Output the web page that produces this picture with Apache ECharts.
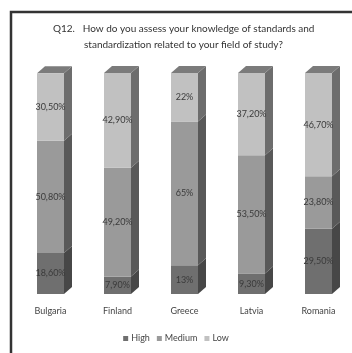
<!DOCTYPE html>
<html>
<head>
<meta charset="utf-8">
<script src="https://cdn.jsdelivr.net/npm/echarts@6/dist/echarts.min.js"></script>
<style>
    html, body { margin: 0; padding: 0; background: #fff; }
    #main { width: 352px; height: 353px; }
</style>
</head>
<body>
<div id="main"></div>
<script>
    var countries = ['Bulgaria', 'Finland', 'Greece', 'Latvia', 'Romania'];
    var high = [18.6, 7.9, 13, 9.3, 29.5];
    var medium = [50.8, 49.2, 65, 53.5, 23.8];
    var low = [30.5, 42.9, 22, 37.2, 46.7];
    var levels = ['High', 'Medium', 'Low'];

    var frontColors = ['#6f6f6f', '#9a9a9a', '#c1c1c1'];
    var sideColors = ['#474747', '#595959', '#6d6d6d'];
    var topColor = '#7b7b7b';
    var barW = 27, depthX = 8, depthY = 7;

    function pct(v) {
        // 30.5 -> "30,50%", 22 -> "22%"
        if (Math.round(v) === v) return v + '%';
        return v.toFixed(2).replace('.', ',') + '%';
    }

    // segments for the 3d side/top faces
    var values = [high, medium, low];
    var segs = [];
    countries.forEach(function (c, i) {
        var start = 0;
        values.forEach(function (arr, k) {
            segs.push([i, start, start + arr[i], k]);
            start += arr[i];
        });
    });

    var myChart = echarts.init(document.getElementById('main'));
    var font = 'Lato, "DejaVu Sans", sans-serif';

    function barSeries(name, data, k) {
        return {
            name: name,
            type: 'bar',
            stack: 'all',
            barWidth: barW,
            data: data,
            itemStyle: { color: frontColors[k] },
            label: {
                show: true,
                position: 'inside',
                color: '#3a3a3a',
                fontSize: 9,
                fontFamily: font,
                formatter: function (p) { return pct(p.value); }
            },
            emphasis: { disabled: true }
        };
    }

    var option = {
        animation: false,
        title: [{
            text: 'Q12.   How do you assess your knowledge of standards and',
            left: 48, top: 19,
            textStyle: { fontSize: 10, fontWeight: 'normal', color: '#333', fontFamily: font }
        }, {
            text: 'standardization related to your field of study?',
            left: 79, top: 35,
            textStyle: { fontSize: 10, fontWeight: 'normal', color: '#333', fontFamily: font }
        }],
        legend: {
            data: levels,
            bottom: 5,
            left: 'center',
            itemWidth: 5,
            itemHeight: 5,
            itemGap: 7,
            icon: 'rect',
            textStyle: { fontSize: 9, color: '#444', fontFamily: font, padding: [0, 0, 0, -2] }
        },
        grid: { left: 17, width: 338, top: 73, bottom: 59 },
        xAxis: {
            type: 'category',
            data: countries,
            axisLine: { show: false },
            axisTick: { show: false },
            axisLabel: { interval: 0, margin: 13, fontSize: 9, color: '#444', fontFamily: font }
        },
        yAxis: {
            type: 'value', min: 0, max: 100, show: false
        },
        graphic: [{
            type: 'polyline',
            shape: { points: [[11, 400], [11, 12], [400, 12]] },
            style: { stroke: '#333', lineWidth: 2.5, fill: null }
        }],
        series: [
            barSeries('High', high, 0),
            barSeries('Medium', medium, 1),
            barSeries('Low', low, 2),
            {
                type: 'custom',
                data: segs,
                silent: true,
                renderItem: function (params, api) {
                    var cat = api.value(0), k = api.value(3);
                    var p0 = api.coord([cat, api.value(1)]);
                    var p1 = api.coord([cat, api.value(2)]);
                    var xr = p0[0] + barW / 2, xl = p0[0] - barW / 2;
                    var children = [{
                        type: 'polygon',
                        shape: { points: [[xr, p1[1]], [xr + depthX, p1[1] - depthY], [xr + depthX, p0[1] - depthY], [xr, p0[1]]] },
                        style: { fill: sideColors[k] }
                    }];
                    if (k === 2) {
                        children.push({
                            type: 'polygon',
                            shape: { points: [[xl, p1[1]], [xl + depthX, p1[1] - depthY], [xr + depthX, p1[1] - depthY], [xr, p1[1]]] },
                            style: { fill: topColor }
                        });
                    }
                    return { type: 'group', children: children };
                }
            }
        ]
    };

    option && myChart.setOption(option);
</script>
</body>
</html>
